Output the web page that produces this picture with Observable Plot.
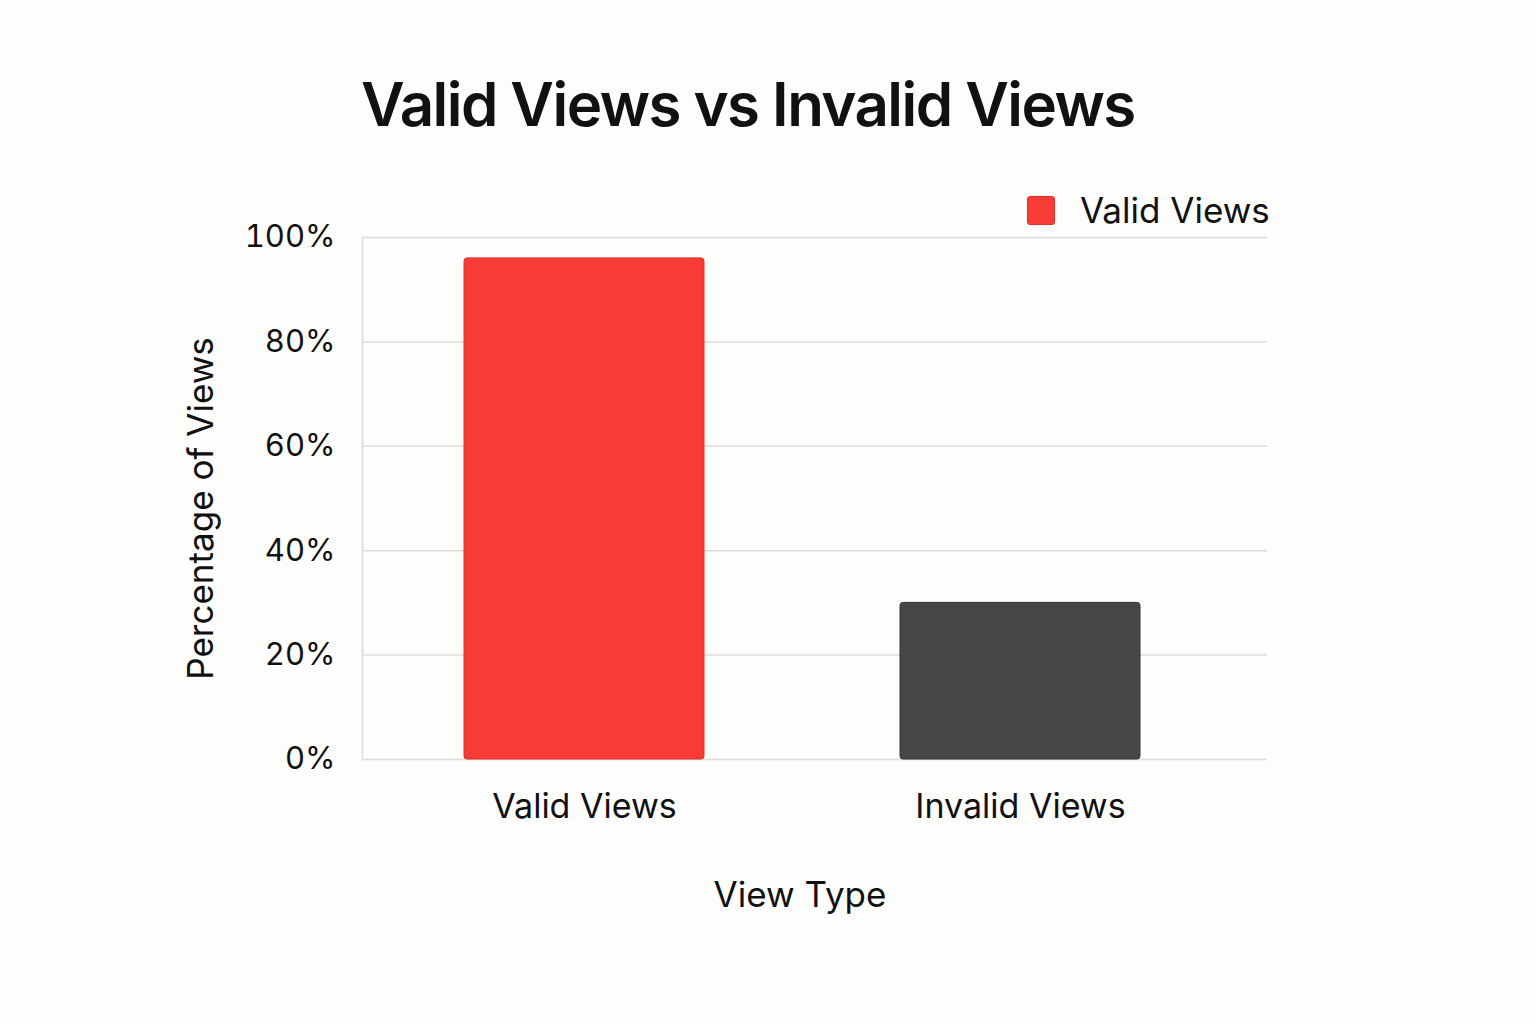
<!DOCTYPE html>
<html>
<head>
<meta charset="utf-8">
<script src="https://cdn.jsdelivr.net/npm/d3@7"></script>
<script src="https://cdn.jsdelivr.net/npm/@observablehq/plot@0.6"></script>
<style>
  html, body { margin: 0; padding: 0; background: #fdfdfc; }
  #wrap { position: relative; width: 1536px; height: 1024px; overflow: hidden; font-family: Inter, "Noto Sans", sans-serif; }
  #title { height: 180px; box-sizing: border-box; padding-left: 361px; padding-top: 74px; font-size: 60px; font-weight: 600; color: #111; line-height: 1; letter-spacing: -1.55px; }
  #legend { position: absolute; left: 1027px; top: 189px; display: flex; align-items: center; font-size: 35px; color: #111; }
  #legend .sw { width: 28px; height: 29px; border-radius: 3px; background: #f83c35; border: 1px solid #e0302b; box-sizing: border-box; margin-right: 25px; }
  svg { display: block; }
</style>
</head>
<body>
<div id="wrap">
  <div id="title">Valid Views vs Invalid Views</div>
  <div id="legend"><div class="sw"></div><span>Valid Views</span></div>
  <div id="chart"></div>
</div>
<script>
const categories = ["Valid Views", "Invalid Views"];
const values = [96, 30];
const barColors = ["#f83c35", "#454648"];
const strokeColors = ["#e0302b", "#333436"];
const yTicks = [0, 20, 40, 60, 80, 100];
const xLabel = "View Type";
const yLabel = "Percentage of Views";

const data = categories.map((c, i) => ({category: c, value: values[i], fill: barColors[i], stroke: strokeColors[i]}));

const chart = Plot.plot({
  width: 1536,
  height: 844,
  marginTop: 57,
  marginBottom: 265,
  marginLeft: 362,
  marginRight: 269,
  style: { fontFamily: "Inter, 'Noto Sans', sans-serif", background: "transparent", color: "#111" },
  x: {
    domain: categories,
    range: [463, 1141],
    paddingInner: 0.4485,
    paddingOuter: 0
  },
  y: {
    domain: [0, 100]
  },
  marks: [
    Plot.gridY(yTicks, {stroke: "#dcdcdc", strokeOpacity: 1, strokeWidth: 1.5}),
    Plot.frame({anchor: "left", stroke: "#dcdcdc", strokeWidth: 1.5}),
    Plot.barY(data, {x: "category", y: "value", fill: "fill", stroke: "stroke", strokeWidth: 1, rx: 3}),
    Plot.axisY(yTicks, {tickSize: 0, tickPadding: 27, fontSize: 31, tickFormat: d => d + "%", label: null}),
    Plot.axisX({tickSize: 0, tickPadding: 34, fontSize: 34, label: null}),
    Plot.text([yLabel], {text: d => d, frameAnchor: "left", textAnchor: "middle", lineAnchor: "middle", rotate: -90, dx: -161, dy: 10, fontSize: 35, fill: "#111"}),
    Plot.text([xLabel], {text: d => d, frameAnchor: "bottom", textAnchor: "middle", dx: -15, dy: 147, fontSize: 35, fill: "#111"})
  ]
});
document.getElementById("chart").appendChild(chart);
</script>
</body>
</html>
